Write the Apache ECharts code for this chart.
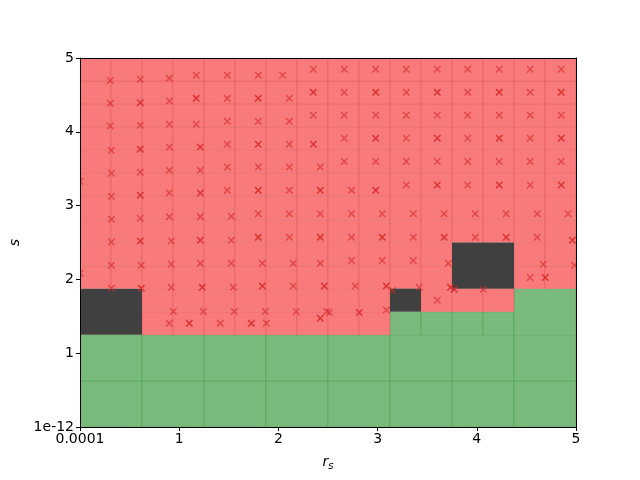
<!DOCTYPE html>
<html>
<head>
<meta charset="utf-8">
<script src="https://cdn.jsdelivr.net/npm/echarts@6/dist/echarts.min.js"></script>
<style>
  html, body { margin: 0; background: #fff; }
  #chart { width: 640px; height: 480px; }
</style>
</head>
<body>
<div id="chart"></div>
<script>
// axis ticks
const xTicks = [0, 1, 2, 3, 4, 5]
const xTickLabels = ['0.0001', '1', '2', '3', '4', '5']
const yTicks = [0, 1, 2, 3, 4, 5]
const yTickLabels = ['1e-12', '1', '2', '3', '4', '5']

// refinement grid: 16 x 16 cells over [0, 5] x [0, 5]
const gridN = 16
const domainMax = 5

// [col, row, span] in fine-grid units
const stableCells = [
  [0, 0, 2], [2, 0, 2], [4, 0, 2], [6, 0, 2], [8, 0, 2], [10, 0, 2], [12, 0, 2], [14, 0, 2],
  [0, 2, 2], [2, 2, 2], [4, 2, 2], [6, 2, 2], [8, 2, 2], [10, 2, 2], [12, 2, 2], [14, 2, 2],
  [10, 4, 1], [11, 4, 1], [12, 4, 1], [13, 4, 1], [14, 4, 2]
]
const mixedCells = [[0, 4, 2], [10, 5, 1], [12, 6, 2]]
// [row, firstCol, lastCol]
const unstableRuns = [
  [4, 2, 9], [5, 2, 9], [5, 11, 13],
  [6, 0, 11], [6, 14, 15], [7, 0, 11], [7, 14, 15],
  [8, 0, 15], [9, 0, 15], [10, 0, 15], [11, 0, 15],
  [12, 0, 15], [13, 0, 15], [14, 0, 15], [15, 0, 15]
]

// sampled points [r_s, s, count]
const samples = [
  [0.305, 4.695, 1], [0.305, 4.386, 1], [0.305, 4.079, 1], [0.316, 3.749, 1], [0.316, 3.438, 1],
  [0.316, 3.126, 1], [0.316, 2.814, 1], [0.316, 2.507, 1], [0.316, 2.191, 1], [0.316, 1.879, 1],
  [0.608, 4.711, 1], [0.608, 4.394, 2], [0.608, 4.088, 1], [0.608, 3.763, 2], [0.608, 3.451, 1],
  [0.608, 3.140, 2], [0.608, 2.828, 1], [0.608, 2.520, 2], [0.618, 2.191, 1], [0.618, 1.879, 2],
  [0.900, 4.725, 1], [0.900, 4.417, 1], [0.900, 4.102, 1], [0.900, 3.794, 1], [0.900, 3.478, 1],
  [0.900, 3.171, 1], [0.900, 2.850, 1], [0.920, 2.520, 1], [0.920, 2.205, 1], [0.920, 1.893, 1],
  [0.941, 1.565, 1], [0.900, 1.405, 1],
  [1.172, 4.766, 1], [1.172, 4.454, 2], [1.172, 4.102, 1], [1.213, 3.794, 2], [1.213, 3.478, 1],
  [1.213, 3.171, 2], [1.213, 2.850, 1], [1.213, 2.530, 2], [1.213, 2.218, 1], [1.233, 1.893, 2],
  [1.243, 1.565, 1], [1.102, 1.405, 2],
  [1.485, 4.766, 1], [1.485, 4.454, 1], [1.485, 4.142, 1], [1.485, 3.831, 1], [1.485, 3.523, 1],
  [1.485, 3.207, 1], [1.525, 2.857, 1], [1.525, 2.530, 1], [1.525, 2.218, 1], [1.545, 1.893, 1],
  [1.555, 1.565, 1], [1.414, 1.405, 1],
  [1.797, 4.766, 1], [1.797, 4.454, 2], [1.797, 4.142, 1], [1.797, 3.831, 2], [1.797, 3.523, 1],
  [1.797, 3.207, 2], [1.797, 2.889, 1], [1.797, 2.570, 2], [1.838, 2.218, 1], [1.838, 1.911, 2],
  [1.868, 1.565, 1], [1.727, 1.405, 2], [1.878, 1.405, 1],
  [2.043, 4.766, 1], [2.110, 4.454, 1], [2.110, 4.142, 1], [2.110, 3.831, 1], [2.110, 3.523, 1],
  [2.110, 3.207, 1], [2.110, 2.889, 1], [2.110, 2.570, 1], [2.150, 2.218, 1], [2.150, 1.911, 1],
  [2.180, 1.565, 1],
  [2.352, 4.847, 1], [2.352, 4.535, 2], [2.352, 4.224, 1], [2.352, 3.831, 2], [2.422, 3.523, 1],
  [2.422, 3.207, 2], [2.422, 2.889, 1], [2.422, 2.570, 2], [2.422, 2.218, 1], [2.463, 1.911, 2],
  [2.487, 1.565, 1], [2.513, 1.552, 1], [2.422, 1.473, 2],
  [2.664, 4.847, 1], [2.664, 4.535, 1], [2.664, 4.224, 1], [2.664, 3.912, 1], [2.664, 3.598, 1],
  [2.737, 3.207, 1], [2.737, 2.889, 1], [2.737, 2.570, 1], [2.737, 2.256, 1], [2.775, 1.911, 1],
  [2.816, 1.552, 2],
  [2.981, 4.847, 1], [2.981, 4.535, 2], [2.981, 4.224, 1], [2.981, 3.912, 2], [2.981, 3.598, 1],
  [2.981, 3.207, 2], [3.047, 2.889, 1], [3.047, 2.570, 2], [3.047, 2.256, 1], [3.088, 1.911, 2],
  [3.088, 1.585, 1], [3.150, 1.850, 1],
  [3.289, 4.847, 1], [3.289, 4.535, 1], [3.289, 4.224, 1], [3.289, 3.912, 1], [3.289, 3.598, 1],
  [3.289, 3.279, 1], [3.360, 2.889, 1], [3.360, 2.570, 1], [3.360, 2.256, 1], [3.420, 1.893, 1],
  [3.602, 4.847, 1], [3.602, 4.535, 2], [3.602, 4.224, 1], [3.602, 3.912, 2], [3.602, 3.598, 1],
  [3.602, 3.279, 2], [3.671, 2.889, 1], [3.671, 2.570, 2], [3.713, 2.218, 1], [3.735, 1.893, 2],
  [3.773, 1.866, 2], [3.602, 1.717, 1],
  [3.908, 4.847, 1], [3.908, 4.535, 1], [3.908, 4.224, 1], [3.908, 3.912, 1], [3.908, 3.598, 1],
  [3.908, 3.279, 1], [3.984, 2.889, 1], [3.984, 2.570, 1], [4.066, 1.866, 1],
  [4.226, 4.847, 1], [4.226, 4.535, 2], [4.226, 4.224, 1], [4.226, 3.912, 2], [4.226, 3.598, 1],
  [4.226, 3.279, 2], [4.296, 2.889, 1], [4.296, 2.570, 2],
  [4.538, 4.847, 1], [4.538, 4.535, 1], [4.538, 4.224, 1], [4.538, 3.912, 1], [4.538, 3.598, 1],
  [4.538, 3.279, 1], [4.609, 2.889, 1], [4.609, 2.570, 1], [4.670, 2.205, 1], [4.538, 2.026, 1],
  [4.690, 2.026, 2],
  [4.851, 4.847, 1], [4.851, 4.535, 2], [4.851, 4.224, 1], [4.851, 3.912, 2], [4.851, 3.598, 1],
  [4.851, 3.279, 2], [4.921, 2.889, 1], [4.963, 2.530, 2], [4.985, 2.191, 1],
  [0.0, 3.329, 1], [0.0, 2.083, 1]
]

const cellColors = { stable: '#7abb7d', unstable: '#f87a7a', mixed: '#404040' }
const cellEdges = { stable: 'rgba(40,130,40,0.25)', unstable: 'rgba(200,40,40,0.18)', mixed: 'rgba(0,0,0,0)' }
const kinds = ['stable', 'unstable', 'mixed']

const step = domainMax / gridN
const cellData = []
stableCells.forEach(([c, r, n]) => cellData.push([c * step, r * step, (c + n) * step, (r + n) * step, 0]))
unstableRuns.forEach(([r, c0, c1]) => {
  for (let c = c0; c <= c1; c++) {
    cellData.push([c * step, r * step, (c + 1) * step, (r + 1) * step, 1])
  }
})
mixedCells.forEach(([c, r, n]) => cellData.push([c * step, r * step, (c + n) * step, (r + n) * step, 2]))

function renderCell(params, api) {
  const p0 = api.coord([api.value(0), api.value(3)])
  const p1 = api.coord([api.value(2), api.value(1)])
  const kind = kinds[api.value(4)]
  return {
    type: 'rect',
    shape: { x: p0[0], y: p0[1], width: p1[0] - p0[0], height: p1[1] - p0[1] },
    style: { fill: cellColors[kind], stroke: cellEdges[kind], lineWidth: 1 }
  }
}

function renderSample(params, api) {
  const p = api.coord([api.value(0), api.value(1)])
  const a = 3.2
  const x = p[0]
  const y = p[1]
  return {
    type: 'path',
    shape: { pathData: `M${x - a} ${y - a}L${x + a} ${y + a}M${x - a} ${y + a}L${x + a} ${y - a}` },
    style: {
      fill: null,
      stroke: '#d62728',
      lineWidth: 1.5,
      opacity: api.value(2) > 1 ? 0.85 : 0.6
    }
  }
}

const tickFont = { color: '#000', fontSize: 14, fontFamily: 'DejaVu Sans' }

const chart = echarts.init(document.getElementById('chart'), null, { renderer: 'canvas' })
chart.setOption({
  animation: false,
  backgroundColor: '#fff',
  grid: { left: 80, right: 64, top: 58, bottom: 53 },
  xAxis: [
    {
      type: 'value', min: 0, max: 5, interval: 1, position: 'bottom', z: 10,
      axisLine: { show: true, onZero: false, lineStyle: { color: '#000', width: 1 } },
      axisTick: { show: true, length: 4, lineStyle: { color: '#000', width: 1 } },
      axisLabel: { ...tickFont, margin: 5, formatter: v => xTickLabels[xTicks.indexOf(Math.round(v))] },
      splitLine: { show: false },
      name: '{it|r}{sub|s}',
      nameLocation: 'middle',
      nameGap: 26,
      nameTextStyle: {
        rich: {
          it: { fontSize: 14, fontStyle: 'italic', fontFamily: 'DejaVu Sans', color: '#000' },
          sub: { fontSize: 10, fontStyle: 'italic', fontFamily: 'DejaVu Sans', color: '#000', padding: [8, 0, 0, 0] }
        }
      }
    },
    {
      type: 'value', min: 0, max: 5, position: 'top', z: 10,
      axisLine: { show: true, onZero: false, lineStyle: { color: '#000', width: 1 } },
      axisTick: { show: false }, axisLabel: { show: false }, splitLine: { show: false }
    }
  ],
  yAxis: [
    {
      type: 'value', min: 0, max: 5, interval: 1, position: 'left', z: 10,
      axisLine: { show: true, onZero: false, lineStyle: { color: '#000', width: 1 } },
      axisTick: { show: true, length: 4, lineStyle: { color: '#000', width: 1 } },
      axisLabel: { ...tickFont, margin: 6, formatter: v => yTickLabels[yTicks.indexOf(Math.round(v))] },
      splitLine: { show: false },
      name: 's',
      nameLocation: 'middle',
      nameGap: 56,
      nameRotate: 90,
      nameTextStyle: { fontSize: 14, fontStyle: 'italic', fontFamily: 'DejaVu Sans', color: '#000' }
    },
    {
      type: 'value', min: 0, max: 5, position: 'right', z: 10,
      axisLine: { show: true, onZero: false, lineStyle: { color: '#000', width: 1 } },
      axisTick: { show: false }, axisLabel: { show: false }, splitLine: { show: false }
    }
  ],
  series: [
    {
      type: 'custom',
      xAxisIndex: 0,
      yAxisIndex: 0,
      data: cellData,
      renderItem: renderCell,
      clip: true,
      silent: true,
      z: 1
    },
    {
      type: 'custom',
      xAxisIndex: 0,
      yAxisIndex: 0,
      data: samples,
      renderItem: renderSample,
      clip: true,
      silent: true,
      z: 3
    }
  ]
})
</script>
</body>
</html>
